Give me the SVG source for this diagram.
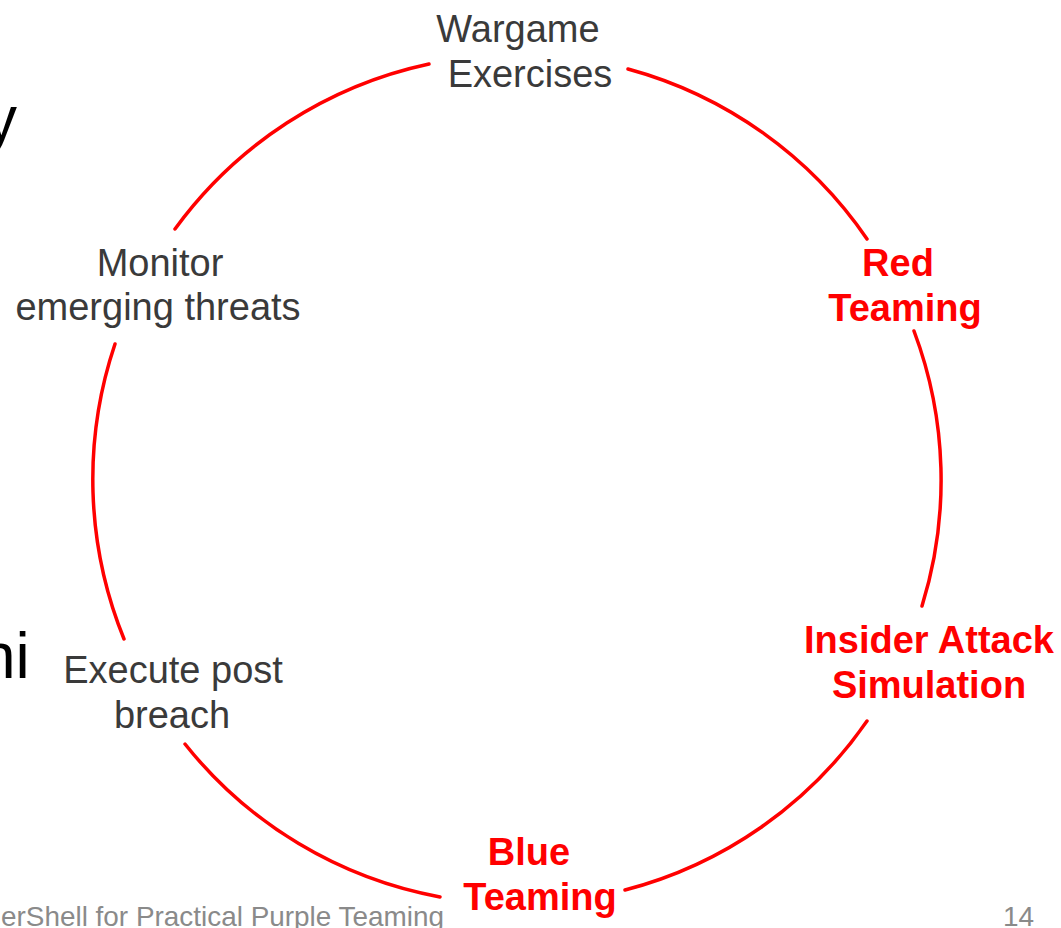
<svg xmlns="http://www.w3.org/2000/svg" width="1061" height="928" viewBox="0 0 1061 928">
<style>
.arc{fill:none;stroke:#ff0000;stroke-width:3.5;stroke-linecap:round}
.lbl{font-family:"Liberation Sans",Arial,sans-serif;font-size:38px;text-anchor:middle;fill:#3a3a3a}
.hot{font-family:"Liberation Sans",Arial,sans-serif;font-size:38px;font-weight:bold;text-anchor:middle;fill:#ff0000}
.slide{font-family:"Liberation Sans",Arial,sans-serif;font-size:64px;fill:#000}
.foot{font-family:"Liberation Sans",Arial,sans-serif;font-size:28px;fill:#8a8a8a}
</style>
<rect width="1061" height="928" fill="#ffffff"/>
<g id="background-text">
<text class="slide" x="-15" y="141">y</text>
<text class="slide" x="-20" y="678">hi</text>
</g>
<g id="connectors">
<path class="arc" d="M175,229 A424,424 0 0 1 429,64"/>
<path class="arc" d="M628,69 A424,424 0 0 1 867,239"/>
<path class="arc" d="M914,331 A424,424 0 0 1 922,606"/>
<path class="arc" d="M867,721 A424,424 0 0 1 625,890"/>
<path class="arc" d="M440,897 A424,424 0 0 1 185,744"/>
<path class="arc" d="M124,639 A424,424 0 0 1 115,344"/>
</g>
<g id="wargame">
<text class="lbl" x="518" y="42">Wargame</text>
<text class="lbl" x="530" y="87">Exercises</text>
</g>
<g id="red-teaming">
<text class="hot" x="898" y="276">Red</text>
<text class="hot" x="905" y="321">Teaming</text>
</g>
<g id="insider-attack">
<text class="hot" x="929" y="653">Insider Attack</text>
<text class="hot" x="929" y="698">Simulation</text>
</g>
<g id="blue-teaming">
<text class="hot" x="529" y="865">Blue</text>
<text class="hot" x="540" y="910">Teaming</text>
</g>
<g id="execute-post-breach">
<text class="lbl" x="173" y="683">Execute post</text>
<text class="lbl" x="172" y="728">breach</text>
</g>
<g id="monitor">
<text class="lbl" x="160" y="276">Monitor</text>
<text class="lbl" x="158" y="320">emerging threats</text>
</g>
<g id="footer">
<text class="foot" x="1" y="926" textLength="443" lengthAdjust="spacingAndGlyphs">erShell for Practical Purple Teaming</text>
<text class="foot" x="1003" y="926">14</text>
</g>
</svg>
